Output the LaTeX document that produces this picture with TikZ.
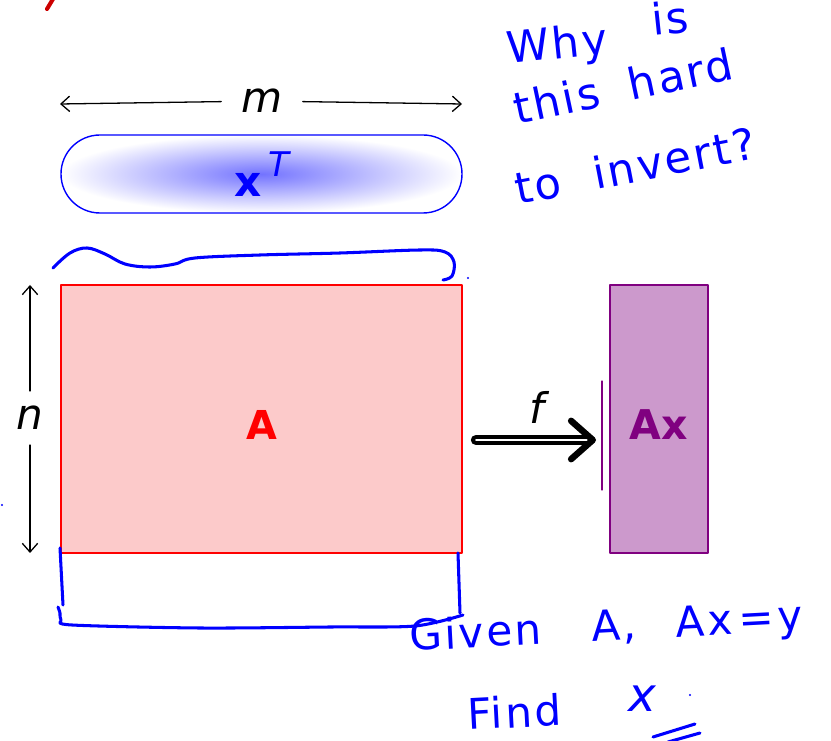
\documentclass[tikz,border=0pt]{standalone}
\usepackage{fontspec}
\setmainfont{DejaVu Sans}
\newfontfamily\handfont[LetterSpace=6]{DejaVu Sans}
\usetikzlibrary{arrows.meta,positioning,calc}
\definecolor{plum}{HTML}{800080}
\definecolor{plumfill}{HTML}{CC99CC}
\definecolor{pinkfill}{HTML}{FCCACA}

\begin{document}
\begin{tikzpicture}[
    x=0.03cm,
    y=-0.03cm,
    >={Straight Barb[length=2.6mm,width=4.6mm]},
    line cap=round,
    line join=round,
    dim/.style={->,line width=1.1pt,black},
    sym/.style={
        font=\fontsize{36}{40}\selectfont\itshape,
        inner sep=0pt
    },
    vecbox/.style={
        draw=blue,
        line width=1.2pt,
        rounded corners=1.17cm,
        shading=radial,
        inner color=blue!55,
        outer color=white,
        minimum width=12.03cm,
        minimum height=2.34cm,
        font=\fontsize{36}{40}\selectfont,
        text=blue
    },
    matbox/.style={
        draw=red,
        line width=1pt,
        fill=pinkfill,
        minimum width=12.03cm,
        minimum height=8.04cm,
        text height=35pt,
        text depth=0pt,
        font=\fontsize{34}{40}\selectfont\bfseries,
        text=red
    },
    outbox/.style={
        draw=plum,
        line width=1pt,
        fill=plumfill,
        minimum width=2.94cm,
        minimum height=8.04cm,
        text height=35pt,
        text depth=0pt,
        font=\fontsize{35}{40}\selectfont\bfseries,
        text=plum
    },
    fat/.style={
        line width=3.6pt,
        double=white,
        double distance=1.7pt,
        -{Straight Barb[length=6.5mm,width=11.5mm,line width=5.5pt,round]}
    },
    ink/.style={blue,line width=2.6pt},
    hand/.style={
        blue,
        font=\handfont\fontsize{37}{40}\selectfont,
        inner sep=0pt,
        anchor=base west
    }
]
\useasboundingbox (0,0) rectangle (831,741);

% Vector and matrix.
\node[vecbox] (xt) at (261.5,174) {{\bfseries x}\hspace{0.2cm}\raisebox{0.6cm}{\fontsize{29}{30}\selectfont\itshape T}};
\node[matbox] (A) at (261.5,419) {A};
\node[outbox] (Ax) at (659,419) {Ax};

% Sizes.
\node[sym,inner xsep=0.6cm] (m) at (262,101) {m};
\coordinate (mL) at (60,104);
\coordinate (mR) at (462,104);
\draw[dim] (m) -- (mL);
\draw[dim] (m) -- (mR);

\node[sym,inner ysep=0.45cm] (n) at (30,418) {n};
\coordinate (nT) at (30,285);
\coordinate (nB) at (30,553);
\draw[dim] (n) -- (nT);
\draw[dim] (n) -- (nB);

% Map.
\coordinate (fs) at (476,440);
\coordinate (fe) at (596,440);
\node[sym] (f) at (537,407) {f};
\draw[fat] (fs) -- (fe);
\draw[plum,line width=1pt] (602,381) -- (602,490);

% Ink.
\draw[red!80!black,line width=3.5pt] (53,-1) -- (47,9);
\draw[ink] plot[smooth,tension=0.6] coordinates {(53,268) (70,253) (87,248) (105,254) (125,264) (150,267) (175,264) (195,258) (260,255) (340,253) (420,250) (445,252) (454,262) (452,276) (443,280)};
\fill[blue] (468,278) circle (1.2);
\fill[blue] (2,505) circle (1.2);
\draw[ink] (60,548) -- (63,605);
\draw[ink] plot[smooth,tension=0.5] coordinates {(58,607) (60,613) (61,620) (72,625) (200,628) (330,627) (415,626) (463,615)};
\draw[ink] (458,553) -- (460,613);

\node[hand,rotate=6] (why) at (508,64) {Why};
\node[hand,rotate=6] (is) at (653,36) {is};
\node[hand,rotate=12] (this) at (517,125) {this\hspace{0.9cm}hard};
\node[hand,rotate=11] (invert) at (518,205) {to\hspace{1cm}invert?};

\node[hand,rotate=3,font=\handfont\fontsize{36}{40}\selectfont] (given) at (410,651) {Given\hspace{1.5cm}A,\hspace{1.2cm}Ax\hspace{0.2cm}=\hspace{0.1cm}y};
\node[hand,rotate=3,font=\handfont\fontsize{36}{40}\selectfont] (find) at (468,730) {Find};
\node[hand,font=\handfont\itshape\fontsize{40}{40}\selectfont] (x) at (628,712) {x};
\fill[blue] (690,695) circle (1.2);
\draw[ink] (653,737) -- (695,724);
\draw[ink] (668,742) -- (700,733);

\end{tikzpicture}
\end{document}
